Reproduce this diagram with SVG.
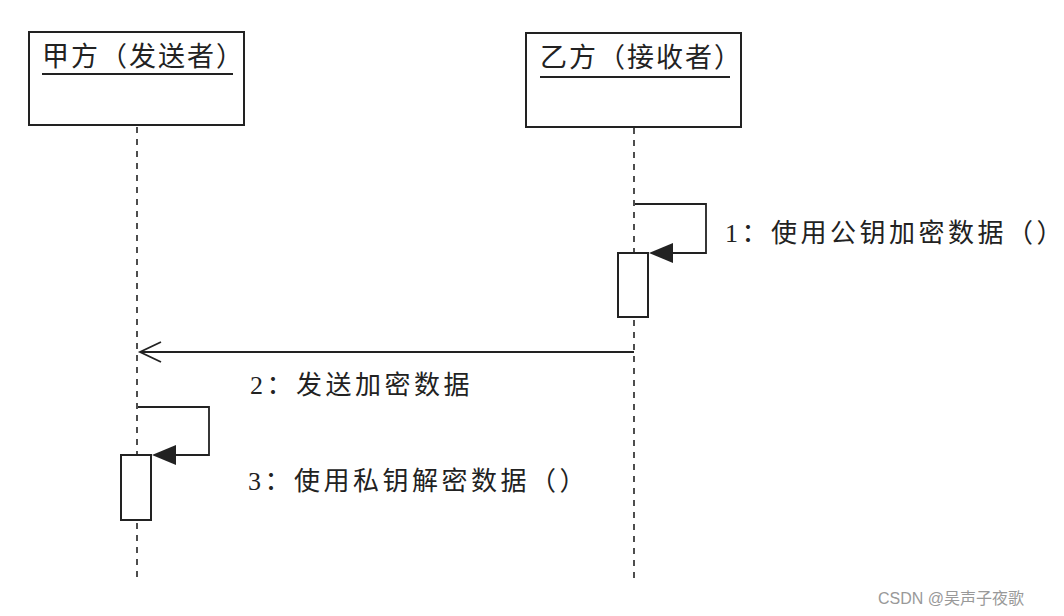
<svg xmlns="http://www.w3.org/2000/svg" width="1064" height="616" viewBox="0 0 1064 616">
<defs>
<style>
.box{fill:#fff;stroke:#222;stroke-width:2}
.life{stroke:#222;stroke-width:1.6;stroke-dasharray:6,6;fill:none}
.msg{stroke:#222;stroke-width:1.8;fill:none}
.t{font-family:"Liberation Serif","Noto Sans CJK SC",serif;fill:#222}
.h{font-size:27px;letter-spacing:2px}
.l{font-size:26px;letter-spacing:3.5px}
.head{fill:#222}
</style>
</defs>
<rect width="1064" height="616" fill="#fff"/>
<g id="lifelines">
<line class="life" x1="137" y1="127" x2="137" y2="578"/>
<line class="life" x1="634" y1="128" x2="634" y2="578"/>
</g>
<g id="node-jia">
<rect class="box" x="29" y="32" width="215" height="93"/>
<text class="t h" x="42" y="66">甲方（发送者）</text>
<line x1="42" y1="74" x2="233" y2="74" stroke="#222" stroke-width="2"/>
</g>
<g id="node-yi">
<rect class="box" x="526" y="33" width="215" height="94"/>
<text class="t h" x="540" y="67">乙方（接收者）</text>
<line x1="540" y1="77" x2="730" y2="77" stroke="#222" stroke-width="2"/>
</g>
<g id="activation-yi">
<rect class="box" x="618" y="253" width="30" height="64"/>
</g>
<g id="activation-jia">
<rect class="box" x="121" y="455" width="30" height="65"/>
</g>
<g id="connectors">
<polyline class="msg" points="635,204 706,204 706,253 672,253"/>
<path class="head" d="M649,253 L673,243 L673,263 Z"/>
<line class="msg" x1="634" y1="352" x2="140" y2="352"/>
<polyline class="msg" points="161,342 140,352 161,362"/>
<polyline class="msg" points="138,407 209,407 209,455 175,455"/>
<path class="head" d="M152,455 L176,445 L176,465 Z"/>
</g>
<g id="labels">
<text class="t l" x="725" y="242">1：使用公钥加密数据（）</text>
<text class="t l" x="250" y="394">2：发送加密数据</text>
<text class="t l" x="248" y="490">3：使用私钥解密数据（）</text>
</g>
<text x="878" y="604" font-family="Liberation Sans,'Noto Sans CJK SC',sans-serif" font-size="16" fill="#999">CSDN @吴声子夜歌</text>
</svg>
